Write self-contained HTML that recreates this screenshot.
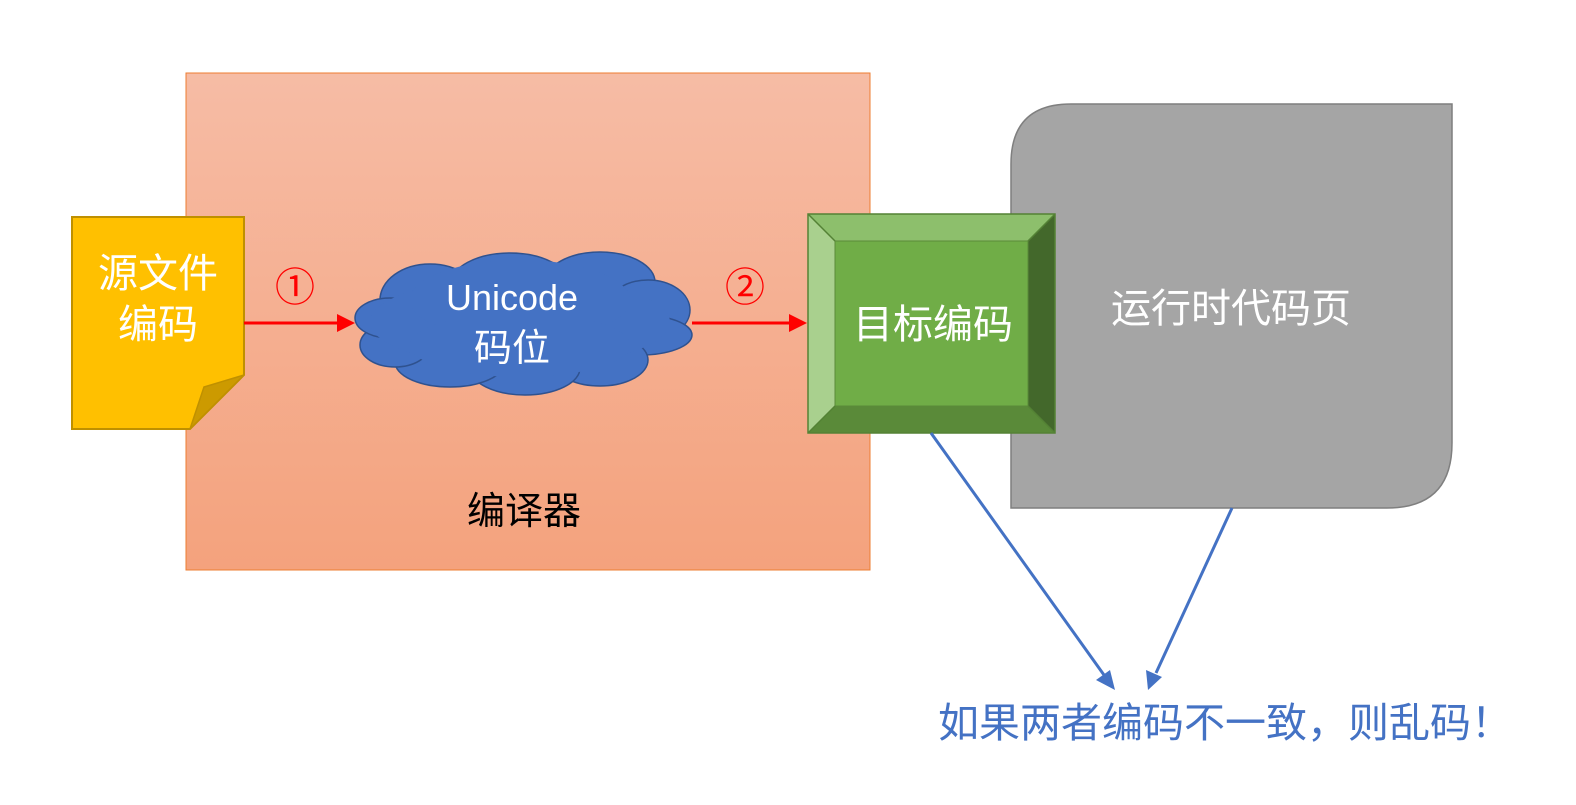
<!DOCTYPE html>
<html><head><meta charset="utf-8"><style>
html,body{margin:0;padding:0;background:#fff;}
svg{display:block;}
text{font-family:"Liberation Sans","Noto Sans CJK SC",sans-serif;}
</style></head><body>
<svg width="1576" height="805" viewBox="0 0 1576 805" xmlns="http://www.w3.org/2000/svg">
<defs>
<linearGradient id="g" x1="0" y1="0" x2="0" y2="1">
<stop offset="0" stop-color="#f6bca5"/><stop offset="1" stop-color="#f4a27d"/>
</linearGradient>
</defs>
<rect x="186" y="73" width="684" height="497" fill="url(#g)" stroke="#ed7d31" stroke-width="1"/>
<text x="524" y="524" font-size="38" text-anchor="middle" fill="#000">编译器</text>

<path d="M1071,104 L1452,104 L1452,443 Q1452,508 1387,508 L1011,508 L1011,164 Q1011,104 1071,104 Z" fill="#a5a5a5" stroke="#7f7f7f" stroke-width="1.5"/>
<text x="1231" y="322" font-size="40" text-anchor="middle" fill="#fff">运行时代码页</text>

<path d="M72,217 L244,217 L244,375 L190,429 L72,429 Z" fill="#ffc000" stroke="#bf9000" stroke-width="2"/>
<path d="M244,375 L204,387 L190,429 Z" fill="#cc9a00" stroke="#bf9000" stroke-width="1.5"/>
<text x="158" y="287" font-size="40" text-anchor="middle" fill="#fff">源文件</text>
<text x="158" y="338" font-size="40" text-anchor="middle" fill="#fff">编码</text>

<line x1="244" y1="323" x2="340" y2="323" stroke="#ff0000" stroke-width="3"/>
<path d="M355,323 L337,314 L337,332 Z" fill="#ff0000"/>
<line x1="692" y1="323" x2="792" y2="323" stroke="#ff0000" stroke-width="3"/>
<path d="M807,323 L789,314 L789,332 Z" fill="#ff0000"/>
<text x="295" y="301" font-size="40" text-anchor="middle" fill="#ff0000">①</text>
<text x="745" y="301" font-size="40" text-anchor="middle" fill="#ff0000">②</text>

<g fill="#4472c4" stroke="#2f528f" stroke-width="1.5">
<ellipse cx="430" cy="300" rx="50" ry="36"/>
<ellipse cx="510" cy="285" rx="60" ry="32"/>
<ellipse cx="600" cy="282" rx="55" ry="30"/>
<ellipse cx="648" cy="310" rx="42" ry="30"/>
<ellipse cx="640" cy="335" rx="52" ry="20"/>
<ellipse cx="600" cy="360" rx="48" ry="26"/>
<ellipse cx="525" cy="368" rx="55" ry="27"/>
<ellipse cx="450" cy="362" rx="55" ry="25"/>
<ellipse cx="395" cy="345" rx="35" ry="22"/>
<ellipse cx="390" cy="318" rx="35" ry="20"/>
</g>
<ellipse cx="520" cy="322" rx="150" ry="45" fill="#4472c4"/>
<ellipse cx="520" cy="300" rx="110" ry="40" fill="#4472c4"/>
<ellipse cx="520" cy="345" rx="110" ry="32" fill="#4472c4"/>
<text x="512" y="310" font-size="36" text-anchor="middle" fill="#fff">Unicode</text>
<text x="512" y="361" font-size="38" text-anchor="middle" fill="#fff">码位</text>

<rect x="808" y="214" width="247" height="219" fill="#70ad47"/>
<path d="M808,214 L1055,214 L1028,241 L835,241 Z" fill="#8dbf6c"/>
<path d="M808,214 L835,241 L835,406 L808,433 Z" fill="#a9d08e"/>
<path d="M1055,214 L1055,433 L1028,406 L1028,241 Z" fill="#43682b"/>
<path d="M808,433 L835,406 L1028,406 L1055,433 Z" fill="#5a8a39"/>
<rect x="835" y="241" width="193" height="165" fill="#70ad47" stroke="#5a8a39" stroke-width="1"/>
<g stroke="#548235" stroke-width="1.5" fill="none">
<rect x="808" y="214" width="247" height="219"/>
<line x1="808" y1="214" x2="835" y2="241"/><line x1="1055" y1="214" x2="1028" y2="241"/>
<line x1="808" y1="433" x2="835" y2="406"/><line x1="1055" y1="433" x2="1028" y2="406"/>
</g>
<text x="933" y="338" font-size="40" text-anchor="middle" fill="#fff">目标编码</text>

<line x1="931" y1="433" x2="1104" y2="675" stroke="#4472c4" stroke-width="3"/>
<path d="M1115,690 L1096,680 L1110,670 Z" fill="#4472c4"/>
<line x1="1232" y1="508" x2="1156" y2="673" stroke="#4472c4" stroke-width="3"/>
<path d="M1148,690 L1146,670 L1162,677 Z" fill="#4472c4"/>
<text x="1225" y="737" font-size="41" text-anchor="middle" fill="#4472c4">如果两者编码不一致，则乱码！</text>
</svg>
</body></html>
